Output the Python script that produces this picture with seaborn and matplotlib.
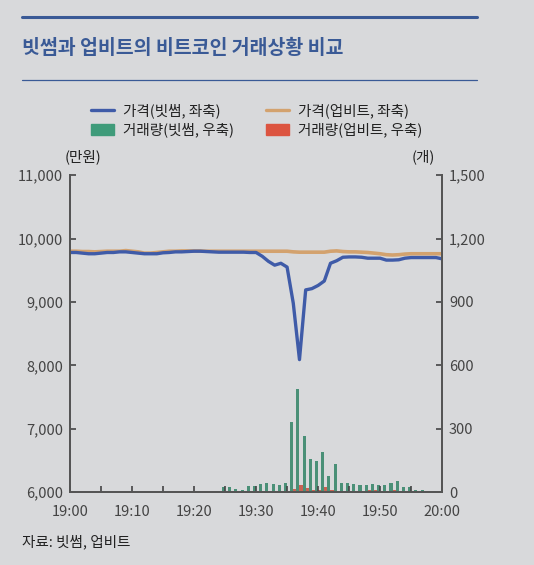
import numpy as np
import pandas as pd
import matplotlib.pyplot as plt
import matplotlib.ticker as mticker
from matplotlib.lines import Line2D
from matplotlib.patches import Patch
import seaborn as sns

# minutes after 19:00
minutes = list(range(61))
tick_labels = ['19:00', '19:10', '19:20', '19:30', '19:40', '19:50', '20:00']

# price (10,000 KRW)
bithumb_price = [9780, 9780, 9770, 9760, 9760, 9770, 9780, 9780, 9790, 9790,
                 9780, 9770, 9760, 9760, 9760, 9775, 9780, 9790, 9790, 9795,
                 9800, 9800, 9795, 9790, 9785, 9785, 9785, 9785, 9785, 9780,
                 9780, 9720, 9640, 9580, 9610, 9550, 8980, 8090, 9190, 9210,
                 9260, 9330, 9610, 9650, 9705, 9710, 9710, 9705, 9690, 9690,
                 9690, 9660, 9660, 9665, 9690, 9700, 9700, 9700, 9700, 9700,
                 9680]
upbit_price = [9800, 9800, 9795, 9795, 9790, 9795, 9800, 9800, 9800, 9810,
               9800, 9790, 9770, 9770, 9780, 9790, 9800, 9800, 9805, 9805,
               9805, 9805, 9800, 9800, 9800, 9800, 9800, 9800, 9800, 9800,
               9800, 9800, 9800, 9800, 9800, 9800, 9790, 9785, 9785, 9785,
               9785, 9785, 9800, 9805, 9795, 9790, 9790, 9785, 9780, 9770,
               9760, 9745, 9740, 9745, 9755, 9760, 9760, 9760, 9760, 9760,
               9760]

# volume (BTC)
bithumb_vol = [0, 0, 0, 0, 0, 0, 0, 0, 0, 0,
               0, 0, 0, 0, 0, 0, 0, 0, 0, 0,
               0, 0, 0, 0, 5, 24, 22, 16, 10, 30,
               27, 38, 44, 38, 32, 43, 334, 487, 266, 156,
               148, 189, 77, 134, 43, 43, 38, 32, 32, 38,
               32, 32, 44, 52, 25, 22, 10, 8, 3, 5,
               0]
upbit_vol = [0, 0, 0, 0, 0, 0, 0, 0, 0, 0,
             0, 0, 0, 0, 0, 0, 0, 0, 0, 0,
             0, 0, 0, 0, 2, 4, 3, 2, 2, 4,
             4, 5, 6, 5, 4, 6, 15, 33, 20, 10,
             12, 24, 8, 6, 5, 4, 4, 5, 10, 12,
             5, 4, 8, 6, 3, 2, 2, 1, 1, 2,
             0]

bg = '#d8d9db'
navy = '#3a5a96'
c_blue = '#3f5ba8'
c_tan = '#d3a26e'
c_green = '#3f9b7a'
c_red = '#dc5440'

sns.set_style('ticks')
plt.rcParams['font.family'] = ['Noto Sans CJK KR', 'DejaVu Sans']
plt.rcParams['text.color'] = '#222222'
plt.rcParams['xtick.color'] = '#444444'
plt.rcParams['ytick.color'] = '#444444'

fig = plt.figure(figsize=(5.34, 5.65), dpi=100, facecolor=bg)
ax = fig.add_axes([0.131, 0.129, 0.697, 0.561])
ax.set_facecolor(bg)
ax2 = ax.twinx()

price_df = pd.DataFrame({'minute': minutes * 2,
                         'price': bithumb_price + upbit_price,
                         'exchange': ['bithumb'] * 61 + ['upbit'] * 61})
vol_df = pd.DataFrame({'minute': minutes * 2,
                       'vol': bithumb_vol + upbit_vol,
                       'exchange': ['bithumb'] * 61 + ['upbit'] * 61})

sns.barplot(data=vol_df, x='minute', y='vol', hue='exchange', native_scale=True,
            palette={'bithumb': c_green, 'upbit': c_red}, width=0.98,
            dodge=True, legend=False, ax=ax2, linewidth=0, errorbar=None)
sns.lineplot(data=price_df[price_df.exchange == 'upbit'], x='minute', y='price',
             color=c_tan, lw=2.6, ax=ax, legend=False)
sns.lineplot(data=price_df[price_df.exchange == 'bithumb'], x='minute', y='price',
             color=c_blue, lw=2.4, ax=ax, legend=False)
ax.set_zorder(ax2.get_zorder() + 1)
ax.patch.set_visible(False)
ax2.patch.set_visible(True)
ax2.patch.set_facecolor(bg)

ax.set_xlim(0, 60)
ax.set_ylim(6000, 11000)
ax2.set_ylim(0, 1500)
ax.set_xticks(range(0, 61, 10))
ax.set_xticklabels(tick_labels)
ax.set_xticks(range(5, 61, 10), minor=True)
ax.set_yticks(range(6000, 11001, 1000))
ax.yaxis.set_major_formatter(mticker.FuncFormatter(lambda v, p: f'{int(v):,}'))
ax2.set_yticks(range(0, 1501, 300))
ax2.yaxis.set_major_formatter(mticker.FuncFormatter(lambda v, p: f'{int(v):,}'))
for a in (ax, ax2):
    a.set_xlabel('')
    a.set_ylabel('')
    a.tick_params(direction='in', length=4, width=1.2, labelsize=10.5, pad=5)
    a.tick_params(which='minor', direction='in', length=4, width=1.2)
    a.spines['top'].set_visible(False)
    for s in ('left', 'right', 'bottom'):
        a.spines[s].set_color('#555555')
        a.spines[s].set_linewidth(1.4)
ax.tick_params(axis='x', pad=9)

# header
fig.add_artist(Line2D([0.041, 0.893], [0.970, 0.970], color=navy, lw=2.2))
fig.text(0.041, 0.915, '빗썸과 업비트의 비트코인 거래상황 비교', color=navy,
         fontsize=14, fontweight='bold', va='center')
fig.add_artist(Line2D([0.041, 0.893], [0.858, 0.858], color=navy, lw=0.9))

# legend filled column by column
handles = [Line2D([], [], color=c_blue, lw=2.4), Patch(color=c_green),
           Line2D([], [], color=c_tan, lw=2.4), Patch(color=c_red)]
labels = ['가격(빗썸, 좌축)', '거래량(빗썸, 우축)', '가격(업비트, 좌축)', '거래량(업비트, 우축)']
fig.legend(handles, labels, ncol=2, loc='center', bbox_to_anchor=(0.48, 0.787),
           frameon=False, fontsize=10.5, handlelength=1.6, handleheight=0.8,
           columnspacing=2.2, labelspacing=0.3, handletextpad=0.6)

fig.text(0.156, 0.722, '(만원)', fontsize=10.5, ha='center', va='center')
fig.text(0.792, 0.722, '(개)', fontsize=10.5, ha='center', va='center')
fig.text(0.041, 0.040, '자료: 빗썸, 업비트', fontsize=10.5, va='center')

fig.savefig('out.png', dpi=100, facecolor=bg)
